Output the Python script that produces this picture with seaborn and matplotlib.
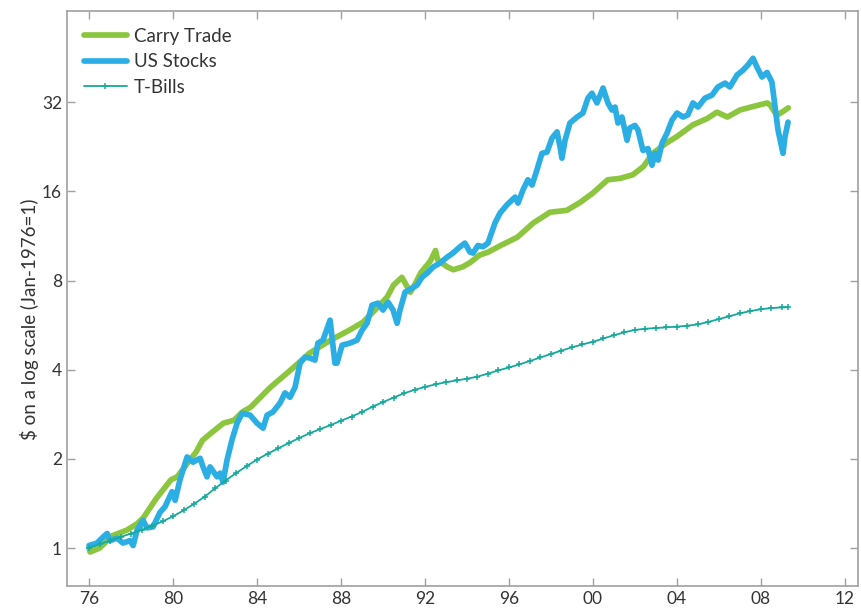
import numpy as np
import pandas as pd
import matplotlib
matplotlib.use("Agg")
import matplotlib.pyplot as plt
import seaborn as sns

# values (year, $ growth of 1 dollar)
carry_years = [1976.0, 1976.05, 1976.5, 1977.1, 1977.8, 1978.3, 1978.6, 1979.2, 1979.9, 1980.2,
               1980.7, 1981.1, 1981.4, 1981.8, 1982.4, 1982.9, 1983.3, 1983.7, 1984.6, 1985.6,
               1986.5, 1987.5, 1988.4, 1989.05, 1989.7, 1990.2, 1990.5, 1990.9, 1991.3, 1991.45,
               1991.8, 1992.25, 1992.5, 1992.6, 1993.05, 1993.35, 1993.8, 1994.15, 1994.6, 1995.0,
               1995.6, 1996.4, 1997.15, 1997.95, 1998.75, 1999.4, 2000.0, 2000.7, 2001.3, 2001.9,
               2002.4, 2002.85, 2003.5, 2004.0, 2004.75, 2005.45, 2005.9, 2006.4, 2007.0, 2007.6,
               2008.3, 2008.45, 2008.75, 2009.0, 2009.3]
carry_values = [1.00, 0.97, 1.00, 1.10, 1.15, 1.21, 1.27, 1.47, 1.70, 1.74,
                1.94, 2.11, 2.31, 2.44, 2.64, 2.70, 2.88, 2.99, 3.47, 3.99,
                4.55, 5.03, 5.44, 5.79, 6.45, 7.04, 7.72, 8.20, 7.30, 7.60,
                8.50, 9.30, 10.1, 9.40, 8.90, 8.70, 8.90, 9.20, 9.75, 9.97,
                10.5, 11.2, 12.5, 13.6, 13.8, 14.7, 15.8, 17.5, 17.7, 18.2,
                19.4, 21.5, 23.3, 24.5, 26.8, 28.2, 29.6, 28.5, 30.1, 30.9,
                31.8, 31.2, 28.9, 29.6, 30.6]

stock_years = [1976.0, 1976.38, 1976.67, 1976.86, 1977.0, 1977.33, 1977.62, 1977.95, 1978.1, 1978.29,
               1978.57, 1978.76, 1979.05, 1979.38, 1979.62, 1979.76, 1979.95, 1980.1, 1980.33, 1980.67,
               1980.95, 1981.29, 1981.43, 1981.62, 1981.76, 1982.1, 1982.24, 1982.38, 1982.57, 1982.81,
               1983.05, 1983.29, 1983.67, 1984.0, 1984.29, 1984.48, 1984.76, 1985.1, 1985.33, 1985.57,
               1985.81, 1986.05, 1986.29, 1986.52, 1986.76, 1986.9, 1987.14, 1987.48, 1987.71, 1987.81,
               1988.05, 1988.43, 1988.76, 1989.0, 1989.24, 1989.48, 1989.76, 1990.0, 1990.24, 1990.48,
               1990.67, 1990.81, 1991.05, 1991.38, 1991.62, 1991.86, 1992.1, 1992.38, 1992.71, 1993.05,
               1993.33, 1993.67, 1993.9, 1994.14, 1994.29, 1994.52, 1994.76, 1995.0, 1995.33, 1995.57,
               1995.9, 1996.29, 1996.43, 1996.67, 1996.9, 1997.1, 1997.33, 1997.57, 1997.81, 1998.05,
               1998.29, 1998.43, 1998.52, 1998.67, 1998.9, 1999.24, 1999.52, 1999.76, 1999.95, 2000.19,
               2000.48, 2000.71, 2000.9, 2001.05, 2001.19, 2001.38, 2001.62, 2001.76, 2002.0, 2002.14,
               2002.38, 2002.62, 2002.81, 2002.95, 2003.1, 2003.29, 2003.52, 2003.76, 2004.0, 2004.29,
               2004.52, 2004.76, 2005.0, 2005.33, 2005.67, 2005.95, 2006.29, 2006.52, 2006.86, 2007.14,
               2007.38, 2007.62, 2007.81, 2008.05, 2008.29, 2008.52, 2008.67, 2008.81, 2009.05, 2009.14,
               2009.29]
stock_values = [1.02, 1.04, 1.09, 1.12, 1.06, 1.08, 1.04, 1.06, 1.02, 1.15,
                1.24, 1.17, 1.18, 1.32, 1.38, 1.45, 1.55, 1.45, 1.70, 2.03,
                1.95, 2.01, 1.88, 1.74, 1.88, 1.74, 1.79, 1.67, 1.98, 2.32,
                2.64, 2.85, 2.81, 2.64, 2.54, 2.81, 2.88, 3.09, 3.34, 3.23,
                3.49, 4.21, 4.41, 4.38, 4.31, 4.92, 5.03, 5.88, 4.21, 4.21,
                4.84, 4.92, 5.03, 5.44, 5.74, 6.61, 6.71, 6.36, 6.76, 6.36,
                5.74, 6.36, 7.31, 7.54, 7.72, 8.21, 8.47, 8.88, 9.16, 9.59,
                9.90, 10.4, 10.7, 9.98, 9.90, 10.5, 10.4, 10.7, 12.5, 13.5,
                14.4, 15.3, 14.6, 16.2, 17.5, 16.8, 18.9, 21.5, 21.7, 24.2,
                25.4, 22.6, 20.7, 23.8, 27.2, 28.5, 29.4, 33.0, 34.3, 31.8,
                35.7, 31.8, 30.1, 30.8, 27.2, 28.5, 23.8, 26.2, 26.7, 25.8,
                22.0, 22.3, 19.6, 21.5, 20.4, 23.3, 25.1, 27.8, 29.4, 28.5,
                29.0, 31.8, 30.8, 33.0, 33.8, 36.0, 37.1, 36.0, 39.5, 41.0,
                42.7, 45.0, 42.0, 38.9, 40.3, 37.4, 30.8, 25.8, 21.5, 24.4,
                27.4]

tbill_years = [1976.0, 1976.5, 1977.0, 1977.5, 1978.0, 1978.5, 1979.0, 1979.5, 1980.0, 1980.5,
               1981.0, 1981.5, 1982.0, 1982.5, 1983.0, 1983.5, 1984.0, 1984.5, 1985.0, 1985.5,
               1986.0, 1986.5, 1987.0, 1987.5, 1988.0, 1988.5, 1989.0, 1989.5, 1990.0, 1990.5,
               1991.0, 1991.5, 1992.0, 1992.5, 1993.0, 1993.5, 1994.0, 1994.5, 1995.0, 1995.5,
               1996.0, 1996.5, 1997.0, 1997.5, 1998.0, 1998.5, 1999.0, 1999.5, 2000.0, 2000.5,
               2001.0, 2001.5, 2002.0, 2002.5, 2003.0, 2003.5, 2004.0, 2004.5, 2005.0, 2005.5,
               2006.0, 2006.5, 2007.0, 2007.5, 2008.0, 2008.5, 2009.0, 2009.3]
tbill_values = [1.00, 1.03, 1.06, 1.09, 1.12, 1.15, 1.19, 1.23, 1.28, 1.34,
                1.41, 1.49, 1.59, 1.69, 1.79, 1.89, 1.99, 2.08, 2.17, 2.26,
                2.35, 2.44, 2.52, 2.60, 2.69, 2.78, 2.88, 3.00, 3.11, 3.22,
                3.33, 3.42, 3.50, 3.57, 3.63, 3.68, 3.73, 3.79, 3.88, 3.98,
                4.07, 4.17, 4.28, 4.40, 4.52, 4.64, 4.76, 4.87, 4.97, 5.10,
                5.23, 5.35, 5.45, 5.50, 5.53, 5.56, 5.59, 5.63, 5.69, 5.80,
                5.93, 6.06, 6.20, 6.31, 6.40, 6.46, 6.49, 6.50]

x_ticks = [1976, 1980, 1984, 1988, 1992, 1996, 2000, 2004, 2008, 2012]
x_tick_labels = ['76', '80', '84', '88', '92', '96', '00', '04', '08', '12']
y_ticks = [1, 2, 4, 8, 16, 32]
y_tick_labels = ['1', '2', '4', '8', '16', '32']

sns.set_style("ticks")
plt.rcParams['font.family'] = ['Lato', 'DejaVu Sans']

carry_df = pd.DataFrame({'year': carry_years, 'value': carry_values})
stock_df = pd.DataFrame({'year': stock_years, 'value': stock_values})
tbill_df = pd.DataFrame({'year': tbill_years, 'value': tbill_values})

fig = plt.figure(figsize=(8.61, 6.15), dpi=100)
ax = fig.add_axes([0.0778, 0.0472, 0.9187, 0.935])

teal = '#17a99b'
sns.lineplot(data=carry_df, x='year', y='value', ax=ax, color='#8cc63f',
             linewidth=4.1, label='Carry Trade')
sns.lineplot(data=stock_df, x='year', y='value', ax=ax, color='#2aaee4',
             linewidth=4.1, label='US Stocks')
sns.lineplot(data=tbill_df, x='year', y='value', ax=ax, color=teal,
             linewidth=1.3, marker='+', markersize=4.5, markeredgewidth=1.1,
             markeredgecolor=teal, markerfacecolor=teal, label='T-Bills')

ax.set_yscale('log', base=2)
ax.set_xlim(1974.95, 2012.62)
ax.set_ylim(0.745, 65)
ax.set_xticks(x_ticks)
ax.set_xticklabels(x_tick_labels)
ax.set_yticks(y_ticks)
ax.set_yticklabels(y_tick_labels)
ax.minorticks_off()

ax.set_xlabel('')
ax.set_ylabel('$ on a log scale (Jan-1976=1)', fontsize=13.5, color='#333333')
ax.yaxis.set_label_coords(-0.036, 0.463)

for side in ['top', 'right', 'left', 'bottom']:
    ax.spines[side].set_visible(True)
    ax.spines[side].set_color('#a0a0a0')
    ax.spines[side].set_linewidth(1.2)
ax.tick_params(direction='in', length=6, width=1.0, color='#a0a0a0',
               labelsize=12.5, labelcolor='#333333', top=True, right=True)

ax.legend(loc='upper left', frameon=False, fontsize=13.5, handlelength=2.3,
          handletextpad=0.35, labelspacing=0.45, labelcolor='#333333')

fig.savefig('out.png', dpi=100)
